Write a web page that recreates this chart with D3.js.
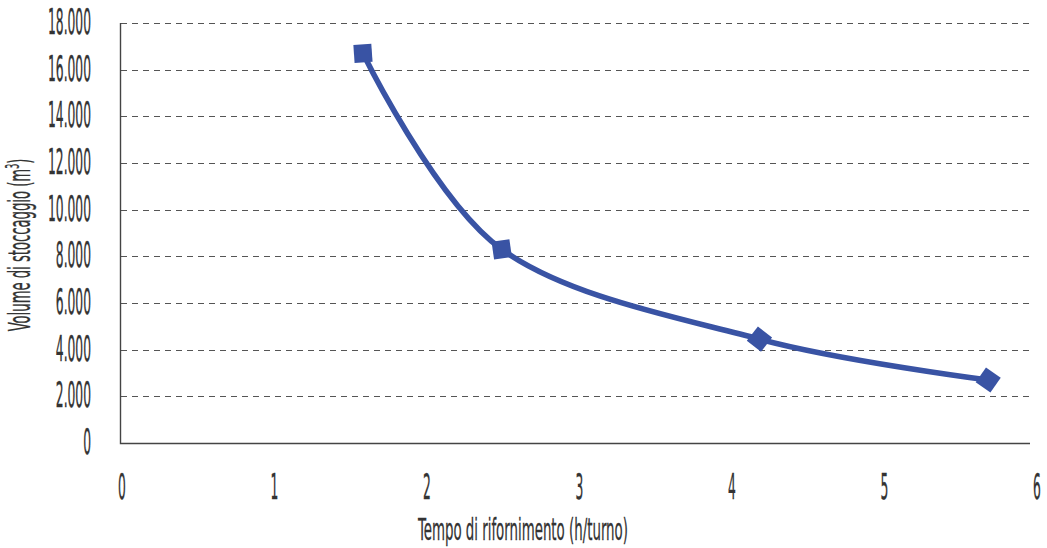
<!DOCTYPE html>
<html>
<head>
<meta charset="utf-8">
<script src="https://cdn.jsdelivr.net/npm/d3@7"></script>
<style>
  body { margin: 0; background: #fff; }
  svg { display: block; }
</style>
</head>
<body>
<svg id="chart" width="1047" height="548"></svg>
<script>
// Storage volume required vs. refuelling time per shift
const refuelHours   = [1.58, 2.49, 4.18, 5.68];
const storageVolume = [16700, 8300, 4450, 2700];
const xTickValues   = [0, 1, 2, 3, 4, 5, 6];
const yTickValues   = [0, 2000, 4000, 6000, 8000, 10000, 12000, 14000, 16000, 18000];
const xTitle = "Tempo di rifornimento (h/turno)";
const yTitle = "Volume di stoccaggio (m";

// marker tilt (degrees) for each point
const markerTilt = [-4, -8, 38, 35];

const FONT = "'Liberation Sans Narrow', 'Arial Narrow', 'DejaVu Sans Condensed', sans-serif";
const INK = "#333";
const LINE = "#3953a4";

const svg = d3.select("#chart");
const plot = { left: 120, right: 1030, top: 23, bottom: 443 };

const x = d3.scaleLinear().domain([0, 6]).range([122, 1037]);
const y = d3.scaleLinear().domain([0, 18000]).range([plot.bottom, plot.top]);

const it = d3.formatLocale({ decimal: ",", thousands: ".", grouping: [3], currency: ["€", ""] });
const fmt = it.format(",d");

// measure a string so condensed labels can be squeezed to a narrow width
function measure(str, size) {
  const t = svg.append("text").attr("font-family", FONT).attr("font-size", size).text(str);
  const w = t.node().getComputedTextLength();
  t.remove();
  return w;
}
const tickSize = 36;
const tickScale = 43 / measure("18.000", tickSize);

// horizontal dashed gridlines
svg.append("g")
  .selectAll("line")
  .data(yTickValues.filter(v => v > 0))
  .join("line")
  .attr("x1", plot.left + 1).attr("x2", plot.right)
  .attr("y1", d => Math.round(y(d)) + 0.5).attr("y2", d => Math.round(y(d)) + 0.5)
  .attr("stroke", "#555").attr("stroke-width", 1)
  .attr("stroke-dasharray", "6,5");

// axis lines
svg.append("path")
  .attr("d", `M${plot.left + 0.5},${plot.top}V${plot.bottom + 0.5}H${plot.right}`)
  .attr("fill", "none").attr("stroke", "#444").attr("stroke-width", 1.4);

// y tick labels
svg.append("g")
  .selectAll("text")
  .data(yTickValues)
  .join("text")
  .attr("transform", d => `translate(91,${y(d) + 11}) scale(${tickScale},1)`)
  .attr("text-anchor", "end")
  .attr("font-family", FONT).attr("font-size", tickSize).attr("fill", INK)
  .attr("stroke", INK).attr("stroke-width", 0.35)
  .text(d => fmt(d));

// x tick labels
svg.append("g")
  .selectAll("text")
  .data(xTickValues)
  .join("text")
  .attr("transform", d => `translate(${x(d)},499) scale(${tickScale},1)`)
  .attr("text-anchor", "middle")
  .attr("font-family", FONT).attr("font-size", tickSize).attr("fill", INK)
  .attr("stroke", INK).attr("stroke-width", 0.35)
  .text(d => d);

// axis titles
const xtSize = 31;
const xtScale = 210 / measure(xTitle, xtSize);
svg.append("text")
  .attr("transform", `translate(523,540) scale(${xtScale},1)`)
  .attr("text-anchor", "middle")
  .attr("font-family", FONT).attr("font-size", xtSize).attr("fill", INK)
  .attr("stroke", INK).attr("stroke-width", 0.3)
  .text(xTitle);

const ytSize = 31;
const ytScale = 176 / measure(yTitle + "3)", ytSize);
const yt = svg.append("text")
  .attr("transform", `translate(30,245) rotate(-90) scale(${ytScale},1)`)
  .attr("text-anchor", "middle")
  .attr("font-family", FONT).attr("font-size", ytSize).attr("fill", INK)
  .attr("stroke", INK).attr("stroke-width", 0.3);
yt.append("tspan").text(yTitle);
yt.append("tspan").attr("font-size", ytSize * 0.6).attr("dy", -11).text("3");
yt.append("tspan").attr("dy", 11).text(")");

// smoothed series line
const pts = refuelHours.map((h, i) => [h, storageVolume[i]]);
const line = d3.line()
  .x(d => x(d[0])).y(d => y(d[1]))
  .curve(d3.curveCardinal.tension(0));

svg.append("path")
  .datum(pts)
  .attr("d", line)
  .attr("fill", "none")
  .attr("stroke", LINE)
  .attr("stroke-width", 5.5)
  .attr("stroke-linecap", "round");

// square markers
const side = 18;
svg.append("g")
  .selectAll("rect")
  .data(pts)
  .join("rect")
  .attr("x", -side / 2).attr("y", -side / 2)
  .attr("width", side).attr("height", side)
  .attr("transform", (d, i) => `translate(${x(d[0])},${y(d[1])}) rotate(${markerTilt[i]})`)
  .attr("fill", LINE);
</script>
</body>
</html>
